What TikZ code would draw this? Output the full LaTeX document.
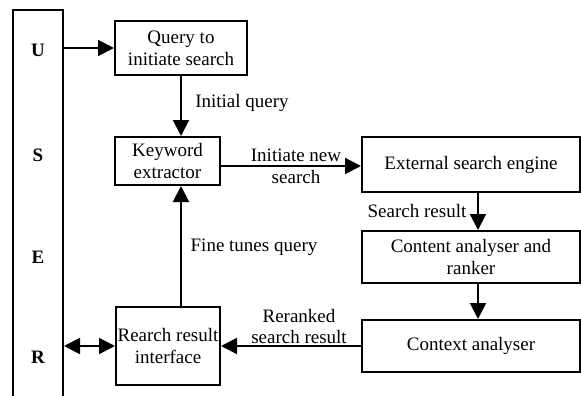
\documentclass[tikz,border=0pt]{standalone}
\usepackage{fontspec}
\setmainfont{Liberation Serif}
\usetikzlibrary{arrows.meta}
\tikzstyle{process} = [rectangle, draw=black, line width=2pt, inner sep=1pt, align=center, font=\fontsize{19}{22}\selectfont]
\tikzstyle{wideprocess} = [process, minimum width=218pt]
\tikzstyle{letter} = [font=\fontsize{19}{22}\selectfont\bfseries]
\tikzstyle{lbl} = [inner sep=0pt, align=center, font=\fontsize{19}{21}\selectfont]
\tikzstyle{arrow} = [line width=2pt, -{Triangle[length=16pt,width=16pt]}]
\tikzstyle{dblarrow} = [line width=2pt, {Triangle[length=16pt,width=16pt]}-{Triangle[length=16pt,width=16pt]}]

\begin{document}
\begin{tikzpicture}[x=1pt, y=-1pt]
	\useasboundingbox (0,0) rectangle (581,396);
	\node (user) [process, minimum width=50pt, minimum height=410pt] at (38,215) {};
	\node (u) [letter] at (38,50) {U};
	\node (s) [letter] at (38,155) {S};
	\node (e) [letter] at (38,257) {E};
	\node (r) [letter] at (38,357) {R};
	\node (query) [process, minimum width=132pt, minimum height=54pt] at (181,48) {Query to\\initiate search};
	\node (keyword) [process, minimum width=105pt, minimum height=48pt] at (167.5,161) {Keyword\\extractor};
	\node (interface) [process, minimum width=104pt, minimum height=78pt] at (168,346) {Rearch result\\interface};
	\node (external) [wideprocess, minimum height=55pt] at (471,164.5) {External search engine};
	\node (content) [wideprocess, minimum height=52pt] at (471,257) {Content analyser and\\ranker};
	\node (context) [wideprocess, minimum height=52pt] at (471,346) {Context analyser};
	% labels
	\node (initq) [lbl] at (242,103) {Initial query};
	\node (newsearch) [lbl] at (296,166) {Initiate new\\[1pt]search};
	\node (sresult) [lbl] at (417,211) {Search result};
	\node (finetune) [lbl] at (254,247) {Fine tunes query};
	\node (reranked) [lbl] at (299,326) {Reranked\\search result};
	% connectors
	\draw [arrow] (user.east |- query.west) -- (query.west);
	\draw [arrow] (query.south) -- (query.south |- keyword.north);
	\draw [arrow] (query.south |- interface.north) -- (query.south |- keyword.south);
	\draw [arrow] ([yshift=-5pt]keyword.east) -- ([yshift=-5pt]keyword.east -| external.west);
	\draw [arrow] ([xshift=7pt]external.south) -- ([xshift=7pt]content.north);
	\draw [arrow] ([xshift=7pt]content.south) -- ([xshift=7pt]context.north);
	\draw [arrow] (context.west) -- (interface.east);
	\draw [dblarrow] (user.east |- interface.west) -- (interface.west);
\end{tikzpicture}
\end{document}
